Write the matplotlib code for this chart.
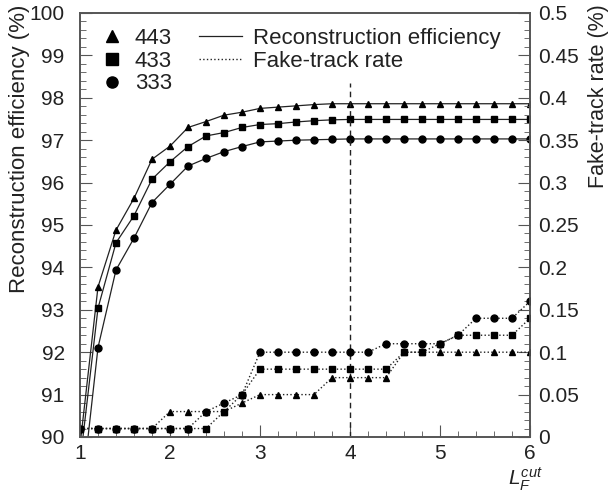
## Reconstruction efficiency and fake-track rate vs L_F cut

import numpy as np
import matplotlib.pyplot as plt
from matplotlib.lines import Line2D
from matplotlib.ticker import MultipleLocator

plt.rcParams['font.family'] = ['Liberation Sans', 'DejaVu Sans']
plt.rcParams['mathtext.fontset'] = 'custom'
plt.rcParams['mathtext.it'] = 'Liberation Sans:italic'
plt.rcParams['mathtext.rm'] = 'Liberation Sans'

# L_F cut values
l_cut = [1.0, 1.2, 1.4, 1.6, 1.8, 2.0, 2.2, 2.4, 2.6, 2.8, 3.0, 3.2, 3.4,
         3.6, 3.8, 4.0, 4.2, 4.4, 4.6, 4.8, 5.0, 5.2, 5.4, 5.6, 5.8, 6.0]
chosen_cut = 4.0

# reconstruction efficiency (%)
eff_443 = [89.8, 93.54, 94.88, 95.63, 96.55, 96.86, 97.30, 97.44, 97.59, 97.66, 97.75, 97.78, 97.81,
           97.84, 97.86, 97.86, 97.86, 97.86, 97.86, 97.86, 97.86, 97.86, 97.86, 97.86, 97.86, 97.86]
eff_433 = [89.4, 93.04, 94.58, 95.22, 96.08, 96.49, 96.85, 97.10, 97.18, 97.30, 97.37, 97.39, 97.43,
           97.46, 97.48, 97.49, 97.49, 97.49, 97.49, 97.49, 97.49, 97.49, 97.49, 97.49, 97.49, 97.49]
eff_333 = [88.3, 92.11, 93.94, 94.69, 95.53, 95.96, 96.39, 96.57, 96.73, 96.85, 96.96, 96.98, 97.00,
           97.01, 97.02, 97.03, 97.03, 97.03, 97.03, 97.03, 97.03, 97.03, 97.03, 97.03, 97.03, 97.03]

# fake-track rate (%)
fake_443 = [0.01, 0.01, 0.01, 0.01, 0.01, 0.03, 0.03, 0.03, 0.03, 0.04, 0.05, 0.05, 0.05,
            0.05, 0.07, 0.07, 0.07, 0.07, 0.10, 0.10, 0.10, 0.10, 0.10, 0.10, 0.10, 0.10]
fake_433 = [0.01, 0.01, 0.01, 0.01, 0.01, 0.01, 0.01, 0.01, 0.03, 0.05, 0.08, 0.08, 0.08,
            0.08, 0.08, 0.08, 0.08, 0.08, 0.10, 0.10, 0.11, 0.12, 0.12, 0.12, 0.12, 0.14]
fake_333 = [0.01, 0.01, 0.01, 0.01, 0.01, 0.01, 0.01, 0.03, 0.04, 0.05, 0.10, 0.10, 0.10,
            0.10, 0.10, 0.10, 0.10, 0.11, 0.11, 0.11, 0.11, 0.12, 0.14, 0.14, 0.14, 0.16]

configs = ['443', '433', '333']
markers = ['^', 's', 'o']
eff_all = [eff_443, eff_433, eff_333]
fake_all = [fake_443, fake_433, fake_333]

ink = '#222222'
spine_col = '#555555'

fig = plt.figure(figsize=(6.12, 4.93), dpi=100)
ax = fig.add_axes([80/612, 56/493, 450/612, 424/493])
ax2 = ax.twinx()

for eff, fake, m in zip(eff_all, fake_all, markers):
    ax.plot(l_cut, eff, '-', color=ink, lw=0.9, marker=m, ms=5, mfc='black', mec='black')
    ax2.plot(l_cut, fake, ':', color=ink, lw=1.0, marker=m, ms=5, mfc='black', mec='black')

ax.axvline(chosen_cut, ymax=0.835, color=ink, lw=1.0, ls=(0, (4, 3)))

ax.set_xlim(1, 6)
ax.set_ylim(90, 100)
ax2.set_ylim(0, 0.5)

ax.xaxis.set_major_locator(MultipleLocator(1))
ax.xaxis.set_minor_locator(MultipleLocator(0.2))
ax.yaxis.set_major_locator(MultipleLocator(1))
ax.yaxis.set_minor_locator(MultipleLocator(0.2))
ax2.yaxis.set_major_locator(MultipleLocator(0.05))
ax2.yaxis.set_minor_locator(MultipleLocator(0.01))
ax2.set_yticklabels([f'{v:g}' for v in ax2.get_yticks()])

for a in (ax, ax2):
    a.tick_params(which='both', direction='in', colors=spine_col, labelcolor=ink, labelsize=15)
    a.tick_params(which='major', length=8.5, width=0.8)
    a.tick_params(which='minor', length=4, width=0.6)
    for s in a.spines.values():
        s.set_color(spine_col)
        s.set_linewidth(1.2)
ax.tick_params(axis='y', pad=11)
ax.tick_params(axis='x', pad=5)
ax2.tick_params(axis='y', pad=6)

ax.set_ylabel('Reconstruction efficiency (%)', fontsize=16, color=ink, loc='top')
ax.yaxis.set_label_coords(-0.11, 1.02)
ax2.set_ylabel('Fake-track rate (%)', fontsize=15.5, color=ink, loc='top')
ax2.yaxis.set_label_coords(1.129, 1.02)
ax.text(0.99, -0.10, r'$L_F^{cut}$', transform=ax.transAxes, fontsize=15,
        color=ink, ha='center', va='center')

# legends
mk_handles = [Line2D([], [], ls='none', marker=m, ms=8, color='black') for m in markers]
leg1 = ax2.legend(mk_handles, configs, loc='upper left', bbox_to_anchor=(0.003, 1.012),
                  frameon=False, fontsize=16, handlelength=1.0, handletextpad=0.5,
                  labelspacing=0.08, labelcolor=ink)
ax2.add_artist(leg1)
ln_handles = [Line2D([], [], ls='-', lw=0.9, color=ink), Line2D([], [], ls=':', lw=1.0, color=ink)]
ax2.legend(ln_handles, ['Reconstruction efficiency', 'Fake-track rate'], loc='upper left',
           bbox_to_anchor=(0.221, 1.012), frameon=False, fontsize=16, handlelength=1.9,
           handletextpad=0.5, labelspacing=0.08, labelcolor=ink)

fig.savefig('out.png', dpi=100)
